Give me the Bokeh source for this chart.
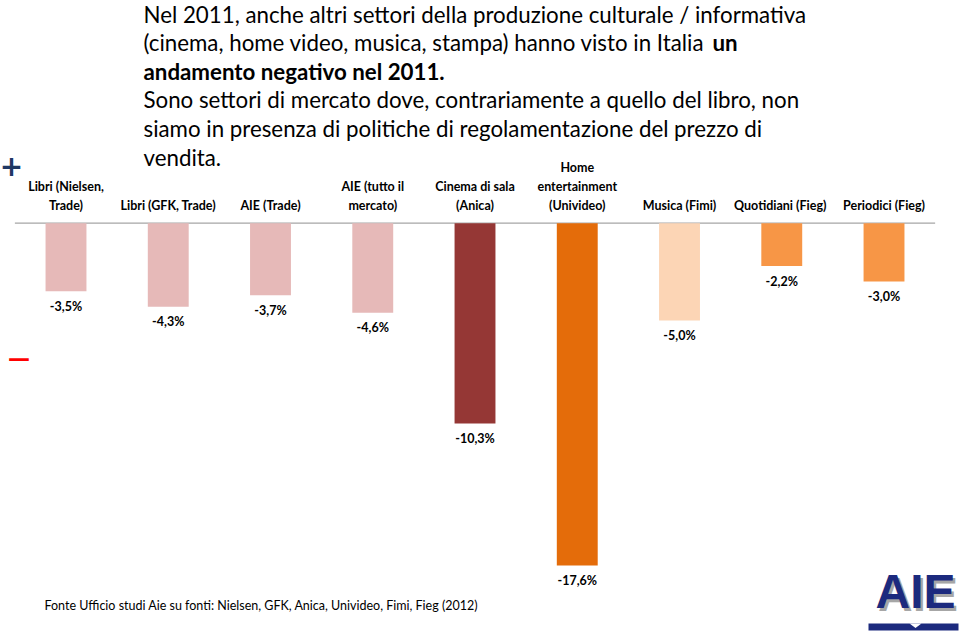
from bokeh.plotting import figure
from bokeh.models import Range1d, ColumnDataSource, LinearScale
from bokeh.core.properties import value
from bokeh.embed import file_html
from bokeh.resources import INLINE

# ---------------- data ----------------
categories = [
    "Libri (Nielsen,\nTrade)",
    "Libri (GFK, Trade)",
    "AIE (Trade)",
    "AIE (tutto il\nmercato)",
    "Cinema di sala\n(Anica)",
    "Home\nentertainment\n(Univideo)",
    "Musica (Fimi)",
    "Quotidiani  (Fieg)",
    "Periodici (Fieg)",
]
changes_2011 = [-3.5, -4.3, -3.7, -4.6, -10.3, -17.6, -5.0, -2.2, -3.0]
bar_colors = ["#E6B9B8", "#E6B9B8", "#E6B9B8", "#E6B9B8", "#953735",
              "#E46C0A", "#FCD5B5", "#F79646", "#F79646"]
value_labels = [f"{v:.1f}%".replace(".", ",") for v in changes_2011]

title_regular = [
    "Nel 2011, anche altri settori della produzione culturale / informativa",
    "(cinema, home video, musica, stampa) hanno visto in Italia",
    "Sono settori di mercato dove, contrariamente a quello del libro, non",
    "siamo in presenza di politiche di regolamentazione del prezzo di",
    "vendita.",
]
title_bold = ["un", "andamento negativo nel 2011."]
source_note = "Fonte Ufficio studi Aie su fonti: Nielsen, GFK, Anica, Univideo, Fimi, Fieg (2012)"
logo_text = "AIE"

# ---------------- figure ----------------
W, H = 960, 638
FONT = value("Lato")
n = len(categories)
xpos = list(range(n))  # category slots, in list order

p = figure(
    width=W, height=H,
    x_range=Range1d(-0.6406, n - 1 + 0.748),
    y_range=Range1d(-21.35, 11.45),
    x_axis_location=None, y_axis_location=None,
    toolbar_location=None, output_backend="svg",
    min_border=0, outline_line_color=None, background_fill_color="white",
)
p.grid.visible = False
p.extra_x_ranges = {"px": Range1d(0, W)}
p.extra_y_ranges = {"px": Range1d(H, 0)}
p.extra_x_scales = {"px": LinearScale()}
p.extra_y_scales = {"px": LinearScale()}

src = ColumnDataSource(dict(x=xpos, cat=categories, val=changes_2011,
                            color=bar_colors, label=value_labels))

# zero line spanning the category band
p.segment(x0=[xpos[0] - 0.5], x1=[xpos[-1] + 0.5], y0=[0], y1=[0],
          line_color="#A6A6A6", line_width=1.3)

p.vbar(x="x", top=0, bottom="val", width=0.4, fill_color="color",
       line_color=None, source=src)

# value labels
p.text(x="x", y="val", text="label", source=src, y_offset=15,
       text_align="center", text_baseline="middle",
       text_font=FONT, text_font_style="bold", text_font_size="12.5px",
       text_color="#000000")

# category labels
p.text(x="x", y=0, text="cat", source=src, y_offset=-10,
       text_align="center", text_baseline="bottom", text_line_height=1.28,
       text_font=FONT, text_font_style="bold", text_font_size="12.5px",
       text_color="#000000")

# title text
tx = 143
mid = [13.5, 42.1, 70.7, 99.3, 127.9, 156.5]
p.text(x=[tx] * 5, y=[mid[0], mid[1], mid[3], mid[4], mid[5]],
       text=title_regular, x_range_name="px", y_range_name="px",
       text_align="left", text_baseline="middle",
       text_font=FONT, text_font_size="22.3px", text_color="#000000")
p.text(x=[712, tx], y=[mid[1], mid[2]], text=title_bold,
       x_range_name="px", y_range_name="px",
       text_align="left", text_baseline="middle",
       text_font=FONT, text_font_style="bold", text_font_size="22.3px",
       text_color="#000000")

# plus / minus markers
p.text(x=[11], y=[165], text=["+"], x_range_name="px", y_range_name="px",
       text_align="center", text_baseline="middle",
       text_font=value("DejaVu Sans"), text_font_style="bold",
       text_font_size="28px", text_color="#1F3864")
p.text(x=[18.5], y=[358.3], text=["\u2014"], x_range_name="px", y_range_name="px",
       text_align="center", text_baseline="middle",
       text_font=value("DejaVu Sans"), text_font_style="bold",
       text_font_size="22px", text_color="#FF0000")

# source note
p.text(x=[44], y=[604.5], text=[source_note], x_range_name="px", y_range_name="px",
       text_align="left", text_baseline="middle",
       text_font=FONT, text_font_size="12.5px", text_color="#000000")

# logo
p.text(x=[917.5], y=[594], text=[logo_text], x_range_name="px", y_range_name="px",
       text_align="center", text_baseline="middle",
       text_font=value("Liberation Sans"), text_font_style="bold",
       text_font_size="48px", text_color="#A6A6A6")
p.text(x=[915], y=[591], text=[logo_text], x_range_name="px", y_range_name="px",
       text_align="center", text_baseline="middle",
       text_font=value("Liberation Sans"), text_font_style="bold",
       text_font_size="48px", text_color="#1C2A7E")
p.quad(left=[868], right=[958], top=[623], bottom=[630],
       x_range_name="px", y_range_name="px",
       fill_color="#1C2A7E", line_color=None)
p.patch(x=[909, 921, 915], y=[623, 623, 627.5], x_range_name="px", y_range_name="px",
        fill_color="white", line_color=None)

open("out.html", "w").write(file_html(p, INLINE))
